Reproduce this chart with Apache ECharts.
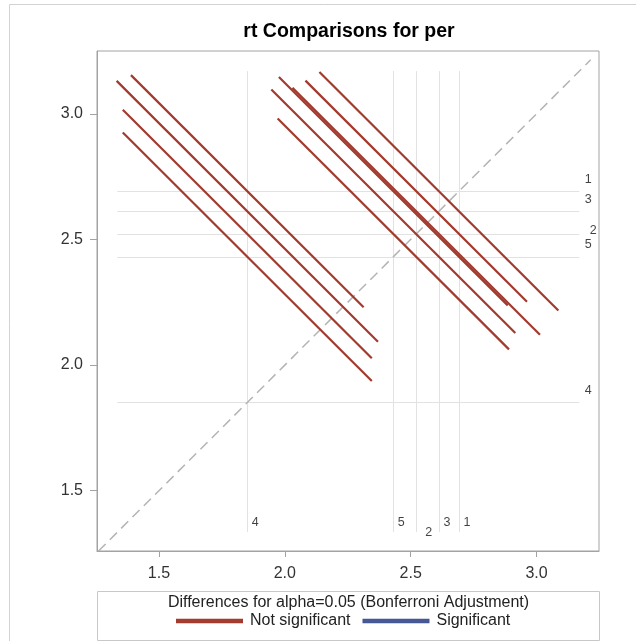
<!DOCTYPE html>
<html>
<head>
<meta charset="utf-8">
<script src="https://cdn.jsdelivr.net/npm/echarts@6/dist/echarts.min.js"></script>
<style>
  html, body { margin: 0; padding: 0; background: #ffffff; }
  #chart { width: 636px; height: 641px; }
</style>
</head>
<body>
<div id="chart"></div>
<script>
// LS-means of rt for each level of per
const levels = ['1', '2', '3', '4', '5'];
const lsMeans = [2.692, 2.522, 2.612, 1.851, 2.431];

// Pairwise differences: levels compared and half-width of the Bonferroni interval
const pairA = ['1', '1', '1', '1', '2', '2', '2', '3', '3', '4'];
const pairB = ['2', '3', '4', '5', '3', '4', '5', '4', '5', '5'];
const ciHalfWidth = [0.880, 0.949, 0.924, 0.909, 0.983, 0.989, 0.919, 1.038, 0.969, 0.989];

const tickValues = [1.5, 2.0, 2.5, 3.0];

const FONT = '"Liberation Sans", Arial, sans-serif';
const RED = '#A23A2E';
const BLUE = '#445694';
const AXIS_MIN_X = 1.254, AXIS_MAX_X = 3.248;
const AXIS_MIN_Y = 1.26, AXIS_MAX_Y = 3.25;
const REF_LO = 1.335, REF_HI = 3.17;

const meanOf = name => lsMeans[levels.indexOf(name)];

// Each comparison is a -45 degree segment centred on (lower mean, higher mean);
// it crosses the diagonal when the interval contains zero.
const notSig = [], sig = [];
pairA.forEach((a, k) => {
  const ma = meanOf(a), mb = meanOf(pairB[k]);
  const lo = Math.min(ma, mb), hi = Math.max(ma, mb);
  const h = ciHalfWidth[k];
  const seg = { coords: [[lo - h / 2, hi + h / 2], [lo + h / 2, hi - h / 2]] };
  (hi - lo > h ? sig : notSig).push(seg);
});

// Reference lines at every mean, horizontal and vertical
const refLines = [];
lsMeans.forEach(m => {
  refLines.push({ coords: [[REF_LO, m], [REF_HI, m]] });
  refLines.push({ coords: [[m, REF_LO], [m, REF_HI]] });
});

// Level labels at the ends of the reference lines ('2' is moved aside)
const rightShift = { '2': [5, -3] };
const bottomShift = { '2': [4.5, 0.5] };
const rightLabels = levels.map((name, i) => ({
  value: [REF_HI, lsMeans[i]],
  label: { offset: rightShift[name] || [0, -12] }
}));
const bottomLabels = levels.map((name, i) => ({
  value: [lsMeans[i], REF_LO],
  label: { offset: bottomShift[name] || [0, -9.5] }
}));
const labelFmt = p => levels[p.dataIndex];

const chart = echarts.init(document.getElementById('chart'));

chart.setOption({
  animation: false,
  backgroundColor: '#ffffff',
  grid: {
    left: 97, top: 51, width: 502, height: 500,
    show: true, borderColor: '#a3a3a3', borderWidth: 1,
    backgroundColor: 'transparent'
  },
  xAxis: {
    type: 'value', min: AXIS_MIN_X, max: AXIS_MAX_X,
    splitLine: { show: false },
    axisLine: { show: true, lineStyle: { color: '#a3a3a3' } },
    axisTick: { show: true, length: 6, customValues: tickValues, lineStyle: { color: '#a3a3a3' } },
    axisLabel: {
      customValues: tickValues, margin: 15,
      formatter: v => v.toFixed(1),
      fontFamily: FONT, fontSize: 16, color: '#333333'
    }
  },
  yAxis: {
    type: 'value', min: AXIS_MIN_Y, max: AXIS_MAX_Y,
    splitLine: { show: false },
    axisLine: { show: true, lineStyle: { color: '#a3a3a3' } },
    axisTick: { show: true, length: 7, customValues: tickValues, lineStyle: { color: '#a3a3a3' } },
    axisLabel: {
      customValues: tickValues, margin: 14,
      formatter: v => v.toFixed(1),
      fontFamily: FONT, fontSize: 16, color: '#333333'
    }
  },
  legend: {
    data: [
      { name: 'Not significant', itemStyle: { color: '#B04A40' } },
      { name: 'Significant', itemStyle: { color: '#5566A0' } }
    ],
    icon: 'rect', itemWidth: 65, itemHeight: 2.5, itemGap: 12,
    left: 176, top: 613, padding: 0,
    textStyle: { fontFamily: FONT, fontSize: 16, color: '#222222', padding: [0, 0, 0, 3] },
    selectedMode: false
  },
  graphic: [
    {
      type: 'rect', silent: true, z: -1,
      shape: { x: 9.5, y: 4.5, width: 700, height: 700 },
      style: { fill: 'none', stroke: '#d2d2d2', lineWidth: 1 }
    },
    {
      type: 'text', silent: true,
      x: 349, y: 32,
      style: {
        text: 'rt Comparisons for per', textAlign: 'center', textVerticalAlign: 'middle',
        font: 'bold 19.5px ' + FONT, fill: '#000000'
      }
    },
    {
      type: 'rect', silent: true,
      shape: { x: 97.5, y: 591.5, width: 502, height: 49 },
      style: { fill: 'none', stroke: '#c8c8c8', lineWidth: 1 }
    },
    {
      type: 'text', silent: true,
      x: 348.5, y: 602.5,
      style: {
        text: 'Differences for alpha=0.05 (Bonferroni Adjustment)',
        textAlign: 'center', textVerticalAlign: 'middle',
        font: '16px ' + FONT, fill: '#222222'
      }
    }
  ],
  series: [
    {
      type: 'lines', coordinateSystem: 'cartesian2d', silent: true, z: 1,
      lineStyle: { color: '#e2e2e2', width: 1, opacity: 1 },
      data: refLines
    },
    {
      type: 'line', silent: true, z: 2, showSymbol: false,
      data: [[AXIS_MIN_Y, AXIS_MIN_Y], [3.215, 3.215]],
      lineStyle: { color: '#b4b4b4', width: 1.5, type: [10, 6] }
    },
    {
      name: 'Not significant',
      type: 'lines', coordinateSystem: 'cartesian2d', silent: true, z: 3,
      lineStyle: { color: RED, width: 2.2, opacity: 1 },
      data: notSig
    },
    {
      name: 'Significant',
      type: 'lines', coordinateSystem: 'cartesian2d', silent: true, z: 3,
      lineStyle: { color: BLUE, width: 2.2, opacity: 1 },
      data: sig
    },
    {
      type: 'scatter', silent: true, z: 4, symbolSize: 1,
      itemStyle: { color: 'transparent' },
      label: {
        show: true, position: 'right', distance: 5, formatter: labelFmt,
        fontFamily: FONT, fontSize: 12.5, color: '#111111'
      },
      data: rightLabels
    },
    {
      type: 'scatter', silent: true, z: 4, symbolSize: 1,
      itemStyle: { color: 'transparent' },
      label: {
        show: true, position: 'right', distance: 4, formatter: labelFmt,
        fontFamily: FONT, fontSize: 12.5, color: '#111111'
      },
      data: bottomLabels
    }
  ]
});
</script>
</body>
</html>
